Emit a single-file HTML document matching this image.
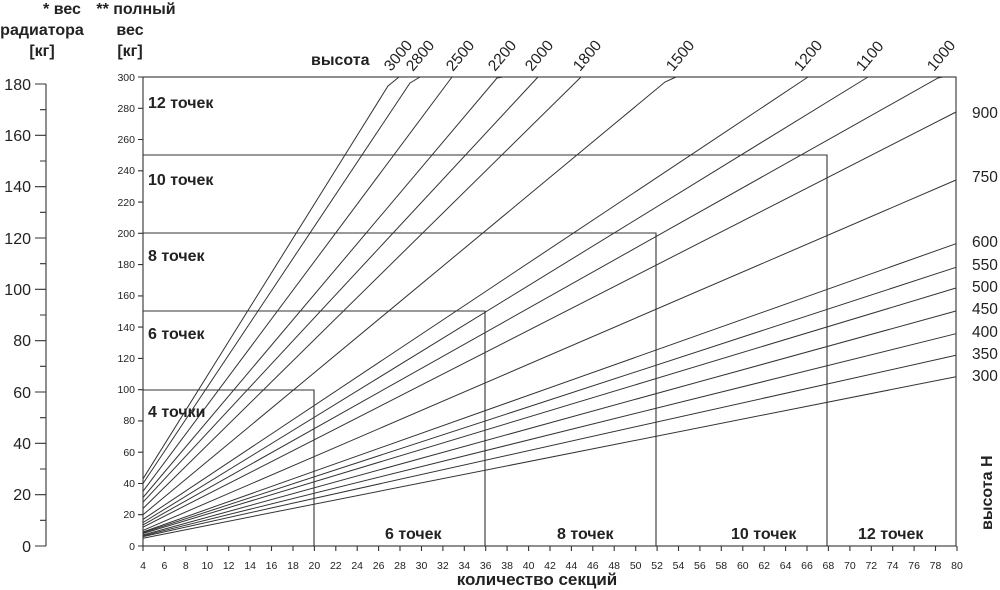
<!DOCTYPE html>
<html><head><meta charset="utf-8"><style>
body{margin:0;background:#fff;}
svg{display:block;}
text{font-family:"Liberation Sans",sans-serif;fill:#222;}
.b{font-weight:bold;font-size:16px;}
.s{font-size:10.5px;}
.m{font-size:16px;}
.r{font-size:15.5px;}
</style></head><body>
<svg width="1000" height="590" viewBox="0 0 1000 590" xmlns="http://www.w3.org/2000/svg">
<g fill="none" stroke="#333" stroke-width="1.1">
<rect x="143" y="77" width="813" height="469"/>
<polyline points="143,390 314,390 314,546"/>
<polyline points="143,311 485,311 485,546"/>
<polyline points="143,233 656,233 656,546"/>
<polyline points="143,155 827,155 827,546"/>
<line x1="46" y1="84" x2="46" y2="546"/>
<path d="M35,84H46M35,135.3H46M35,186.7H46M35,238H46M35,289.3H46M35,340.7H46M35,392H46M35,443.3H46M35,494.7H46M35,546H46M40,109.7H46M40,161H46M40,212.3H46M40,263.7H46M40,315H46M40,366.3H46M40,417.7H46M40,469H46M40,520.3H46"/>
<path d="M138,77H143M138,108.3H143M138,139.5H143M138,170.8H143M138,202.1H143M138,233.3H143M138,264.6H143M138,295.9H143M138,327.1H143M138,358.4H143M138,389.7H143M138,420.9H143M138,452.2H143M138,483.5H143M138,514.7H143M138,546H143"/>
<path d="M143,546v5M164.4,546v5M185.8,546v5M207.3,546v5M228.7,546v5M250.1,546v5M271.5,546v5M293,546v5M314.4,546v5M335.8,546v5M357.2,546v5M378.6,546v5M400,546v5M421.5,546v5M442.9,546v5M464.3,546v5M485.7,546v5M507.1,546v5M528.6,546v5M550,546v5M571.4,546v5M592.8,546v5M614.2,546v5M635.7,546v5M657.1,546v5M678.5,546v5M699.9,546v5M721.3,546v5M742.8,546v5M764.2,546v5M785.6,546v5M807,546v5M828.4,546v5M849.9,546v5M871.3,546v5M892.7,546v5M914.1,546v5M935.5,546v5M957,546v5"/>
<g stroke-width="1">
<polyline points="143,478.8 388,86 399,77"/>
<polyline points="143,483.5 410,83 420,77"/>
<polyline points="143,491.3 452,77"/>
<polyline points="143,497.5 497,78 503,77"/>
<polyline points="143,502.2 538,77"/>
<polyline points="143,508.5 581,77"/>
<polyline points="143,514.7 665,82 676,77"/>
<polyline points="143,519.4 808,77"/>
<polyline points="143,522.5 868,77"/>
<polyline points="143,524.9 938,78 943,77"/>
<polyline points="143,527.2 956,112"/>
<polyline points="143,530.4 956,180"/>
<polyline points="143,532 956,243.7"/>
<polyline points="143,532.7 956,267.3"/>
<polyline points="143,533.5 956,288"/>
<polyline points="143,535 956,311"/>
<polyline points="143,535.8 956,333.7"/>
<polyline points="143,536.6 956,355.3"/>
<polyline points="143,538.2 956,376.7"/>
</g>
</g>
<text class="b" x="62" y="14" text-anchor="middle">* вес</text>
<text class="b" x="42" y="35" text-anchor="middle">радиатора</text>
<text class="b" x="42" y="56" text-anchor="middle">[кг]</text>
<text class="b" x="136" y="14" text-anchor="middle">** полный</text>
<text class="b" x="130" y="35" text-anchor="middle">вес</text>
<text class="b" x="130" y="56" text-anchor="middle">[кг]</text>
<text class="b" x="311" y="65">высота</text>
<g class="m" text-anchor="end">
<text x="31" y="90">180</text><text x="31" y="141">160</text><text x="31" y="192">140</text><text x="31" y="244">120</text><text x="31" y="295">100</text><text x="31" y="346">80</text><text x="31" y="398">60</text><text x="31" y="449">40</text><text x="31" y="500">20</text><text x="31" y="552">0</text>
</g>
<g class="s" text-anchor="end">
<text x="135" y="81">300</text><text x="135" y="112">280</text><text x="135" y="143">260</text><text x="135" y="174">240</text><text x="135" y="206">220</text><text x="135" y="237">200</text><text x="135" y="268">180</text><text x="135" y="299">160</text><text x="135" y="331">140</text><text x="135" y="362">120</text><text x="135" y="393">100</text><text x="135" y="424">80</text><text x="135" y="456">60</text><text x="135" y="487">40</text><text x="135" y="518">20</text><text x="135" y="550">0</text>
</g>
<g class="s" text-anchor="middle">
<text x="143" y="569">4</text><text x="164.4" y="569">6</text><text x="185.8" y="569">8</text><text x="207.3" y="569">10</text><text x="228.7" y="569">12</text><text x="250.1" y="569">14</text><text x="271.5" y="569">16</text><text x="293" y="569">18</text><text x="314.4" y="569">20</text><text x="335.8" y="569">22</text><text x="357.2" y="569">24</text><text x="378.6" y="569">26</text><text x="400" y="569">28</text><text x="421.5" y="569">30</text><text x="442.9" y="569">32</text><text x="464.3" y="569">34</text><text x="485.7" y="569">36</text><text x="507.1" y="569">38</text><text x="528.6" y="569">40</text><text x="550" y="569">42</text><text x="571.4" y="569">44</text><text x="592.8" y="569">46</text><text x="614.2" y="569">48</text><text x="635.7" y="569">50</text><text x="657.1" y="569">52</text><text x="678.5" y="569">54</text><text x="699.9" y="569">56</text><text x="721.3" y="569">58</text><text x="742.8" y="569">60</text><text x="764.2" y="569">62</text><text x="785.6" y="569">64</text><text x="807" y="569">66</text><text x="828.4" y="569">68</text><text x="849.9" y="569">70</text><text x="871.3" y="569">72</text><text x="892.7" y="569">74</text><text x="914.1" y="569">76</text><text x="935.5" y="569">78</text><text x="957" y="569">80</text>
</g>
<text class="b" x="537" y="585" text-anchor="middle" style="font-size:17px">количество секций</text>
<text class="b" x="148" y="108">12 точек</text>
<text class="b" x="148" y="185">10 точек</text>
<text class="b" x="148" y="261">8 точек</text>
<text class="b" x="148" y="339">6 точек</text>
<text class="b" x="148" y="417">4 точки</text>
<text class="b" x="385" y="539">6 точек</text>
<text class="b" x="557" y="539">8 точек</text>
<text class="b" x="731" y="539">10 точек</text>
<text class="b" x="858" y="539">12 точек</text>
<g class="r">
<text transform="translate(391,72) rotate(-50)">3000</text>
<text transform="translate(413,72) rotate(-50)">2800</text>
<text transform="translate(453,72) rotate(-50)">2500</text>
<text transform="translate(495,72) rotate(-50)">2200</text>
<text transform="translate(532,72) rotate(-50)">2000</text>
<text transform="translate(580,72) rotate(-50)">1800</text>
<text transform="translate(673,72) rotate(-50)">1500</text>
<text transform="translate(801,72) rotate(-50)">1200</text>
<text transform="translate(863,72) rotate(-50)">1100</text>
<text transform="translate(934,72) rotate(-50)">1000</text>
</g>
<g class="r">
<text x="972" y="118">900</text><text x="972" y="182">750</text><text x="972" y="247">600</text><text x="972" y="270">550</text><text x="972" y="292">500</text><text x="972" y="314">450</text><text x="972" y="337">400</text><text x="972" y="359">350</text><text x="972" y="381">300</text>
</g>
<text class="b" transform="translate(992,530) rotate(-90)">высота H</text>
</svg>
</body></html>
